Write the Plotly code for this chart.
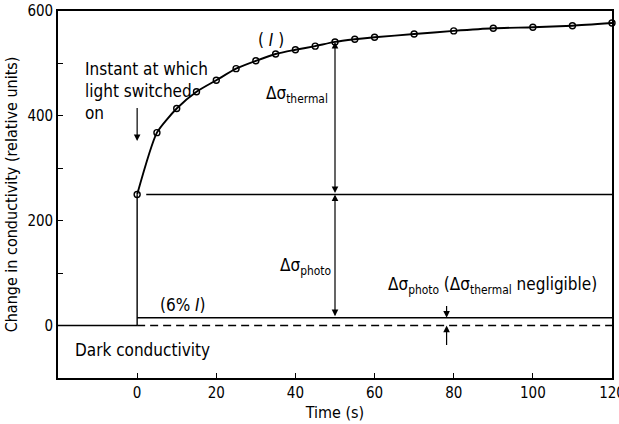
import plotly.graph_objects as go

# Conductivity response (relative units) after the light is switched on at t = 0
time_s = [0, 5, 10, 15, 20, 25, 30, 35, 40, 45, 50, 55, 60, 70, 80, 90, 100, 110, 120]
sigma_total = [250, 368, 414, 446, 468, 490, 505, 518, 526, 533, 541, 546, 550, 556, 562, 567, 569, 572, 577]

# Reference levels
dark_level = 0
photo_level = 250          # photoconductive step at t = 0
low_intensity_level = 15   # 6 % of intensity I
t_start, t_end = -20, 120

FONT = "DejaVu Sans Condensed, DejaVu Sans, Liberation Sans Narrow, sans-serif"
INK = "black"

fig = go.Figure()

# dark conductivity before switch-on
fig.add_trace(go.Scatter(x=[t_start, 0], y=[dark_level, dark_level], mode="lines",
                         line=dict(color=INK, width=1.6), hoverinfo="skip"))
# dark conductivity continued (dashed)
fig.add_trace(go.Scatter(x=[0, t_end], y=[dark_level, dark_level], mode="lines",
                         line=dict(color=INK, width=1.4, dash="8px,5px"), hoverinfo="skip"))
# step at t = 0
fig.add_trace(go.Scatter(x=[0, 0], y=[dark_level, photo_level], mode="lines",
                         line=dict(color=INK, width=1.4), hoverinfo="skip"))
# 6 % intensity response
fig.add_trace(go.Scatter(x=[0, t_end], y=[low_intensity_level, low_intensity_level], mode="lines",
                         line=dict(color=INK, width=1.6), hoverinfo="skip"))
# photoconductive level
fig.add_trace(go.Scatter(x=[2.3, t_end], y=[photo_level, photo_level], mode="lines",
                         line=dict(color=INK, width=1.4), hoverinfo="skip"))
# full intensity response (I)
fig.add_trace(go.Scatter(x=time_s, y=sigma_total, mode="lines+markers",
                         line=dict(color=INK, width=1.9, shape="spline", smoothing=0.6),
                         marker=dict(symbol="circle-open", size=6, color=INK, line=dict(width=1.4)),
                         hoverinfo="skip", cliponaxis=False))

ann = []


def arrow(x, y, ax, ay, both=False):
    ann.append(dict(x=x, y=y, ax=ax, ay=ay, xref="x", yref="y", axref="x", ayref="y",
                    text="", showarrow=True, arrowhead=2, arrowsize=1.1, arrowwidth=1.2,
                    arrowcolor=INK, arrowside="end+start" if both else "end"))


def label(x, y, text, xanchor="left", yanchor="middle", size=17, align="left"):
    ann.append(dict(x=x, y=y, xref="x", yref="y", text=text, showarrow=False,
                    xanchor=xanchor, yanchor=yanchor, align=align,
                    font=dict(family=FONT, size=size, color=INK)))


# switch-on marker
label(-13.8, 512, "Instant at which<br>light switched<br>on", yanchor="top")
arrow(0, 352, 0, 418)

# curve label
label(33.9, 545, "( <i>I</i> )", xanchor="center")

# thermal and photo contributions at t = 50 s
t_mark = time_s[10]
arrow(t_mark, sigma_total[10], t_mark, photo_level, both=True)
arrow(t_mark, photo_level, t_mark, low_intensity_level, both=True)
label(48.8, 440, "Δσ<sub>thermal</sub>", xanchor="right")
label(49.4, 112, "Δσ<sub>photo</sub>", xanchor="right")

# low-intensity annotation
label(63.0, 76, "Δσ<sub>photo</sub> (Δσ<sub>thermal</sub> negligible)")
arrow(78.2, low_intensity_level, 78.2, 40)
arrow(78.2, dark_level, 78.2, -40)
label(11.5, 40, "(6% <i>I</i>)", xanchor="center")

label(-16.2, -46, "Dark conductivity")

fig.update_layout(
    width=619, height=424,
    margin=dict(l=58, r=7, t=11, b=46),
    paper_bgcolor="white", plot_bgcolor="white",
    showlegend=False,
    font=dict(family=FONT, size=15, color=INK),
    annotations=ann,
    xaxis=dict(range=[t_start, t_end], tickvals=[0, 20, 40, 60, 80, 100, 120],
               ticks="inside", ticklen=5, tickwidth=1.2, tickcolor=INK,
               ticklabeloverflow="allow", automargin=False,
               showline=True, linecolor=INK, linewidth=1.6, mirror=True,
               showgrid=False, zeroline=False,
               tickfont=dict(family=FONT, size=15, color=INK),
               title=dict(text="Time (s)", standoff=6, font=dict(family=FONT, size=16, color=INK))),
    yaxis=dict(range=[-100, 600], tickvals=[0, 100, 200, 300, 400, 500, 600],
               ticktext=["0", "", "200", "", "400", "", "600"],
               ticks="inside", ticklen=5, tickwidth=1.2, tickcolor=INK,
               automargin=False,
               showline=True, linecolor=INK, linewidth=1.6, mirror=True,
               showgrid=False, zeroline=False,
               tickfont=dict(family=FONT, size=15, color=INK),
               title=dict(text="Change in conductivity (relative units)", standoff=6,
                          font=dict(family=FONT, size=16, color=INK))),
)

fig.write_html("out.html")
